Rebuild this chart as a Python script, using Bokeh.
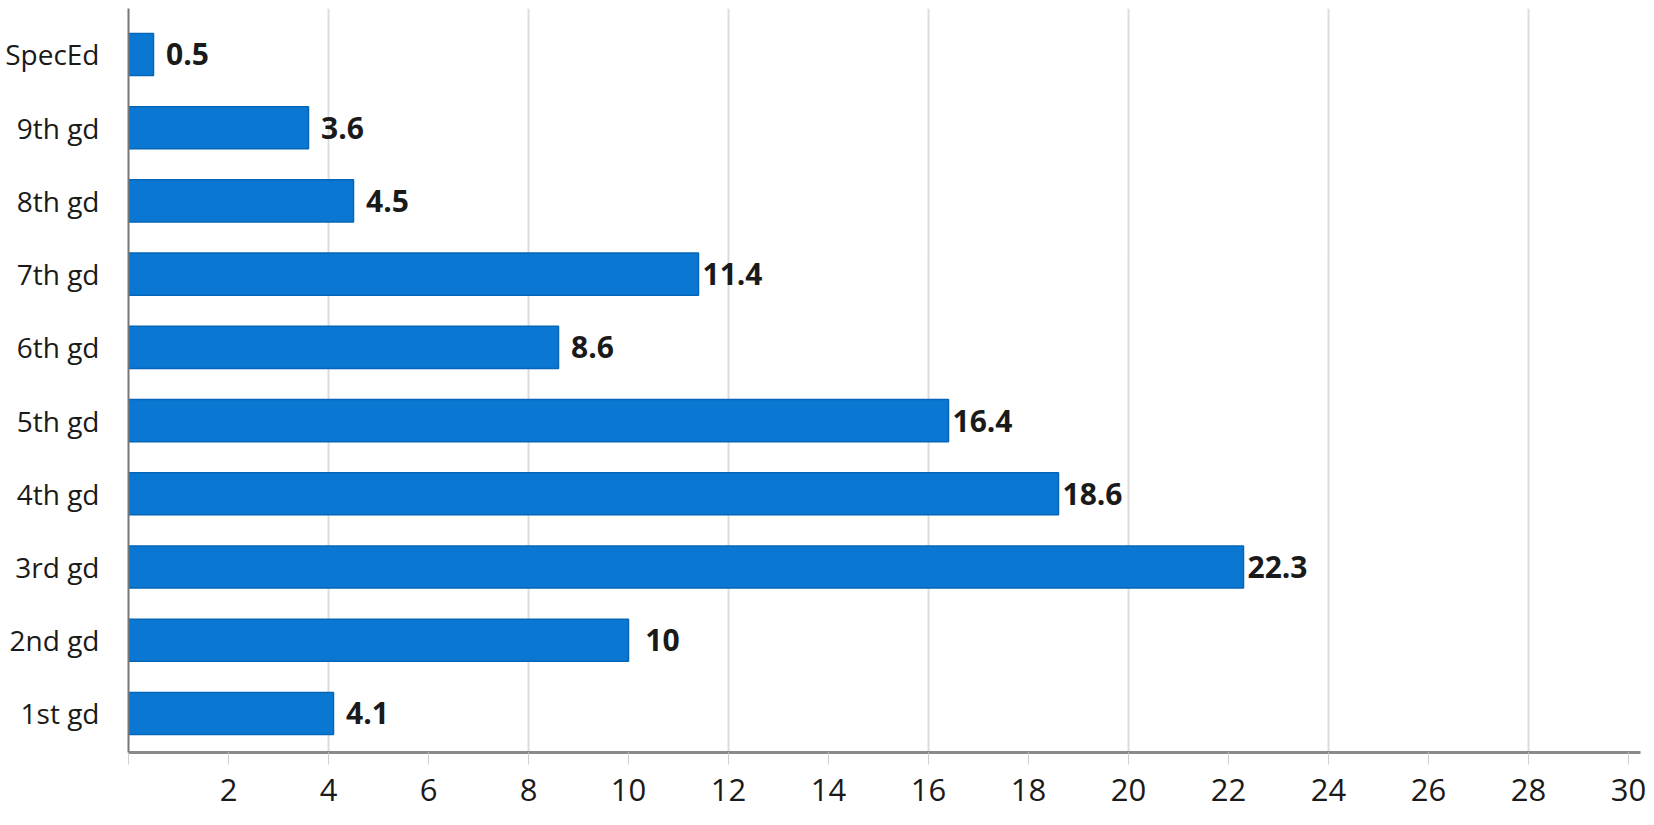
from bokeh.plotting import figure
from bokeh.models import ColumnDataSource, FixedTicker, Range1d, LabelSet
from bokeh.core.properties import value
from bokeh.embed import file_html
from bokeh.resources import INLINE

categories = ["1st gd", "2nd gd", "3rd gd", "4th gd", "5th gd",
              "6th gd", "7th gd", "8th gd", "9th gd", "SpecEd"]
values = [4.1, 10, 22.3, 18.6, 16.4, 8.6, 11.4, 4.5, 3.6, 0.5]
value_labels = ["4.1", "10", "22.3", "18.6", "16.4", "8.6", "11.4", "4.5", "3.6", "0.5"]
x_ticks = list(range(0, 31, 2))
x_tick_labels = {0: ""}
grid_ticks = list(range(4, 29, 4))

pos = list(range(len(categories)))
src = ColumnDataSource(dict(y=pos, v=values, lab=value_labels, cat=categories))

p = figure(width=1646, height=817, output_backend="svg", toolbar_location=None,
           x_range=Range1d(0, 30.24), y_range=Range1d(-0.533, 9.628),
           min_border_left=128, min_border_right=6, min_border_top=8,
           min_border_bottom=65)
p.outline_line_color = None
p.background_fill_color = "white"
p.border_fill_color = "white"

p.hbar(y="y", left=0, right="v", height=0.575, source=src,
       fill_color="#0a78d2", line_color="#0566b8", line_width=1.5)

labels = LabelSet(x="v", y="y", text="lab", source=src, x_offset=34,
                  text_align="center", text_baseline="middle",
                  text_font=value("Open Sans"), text_font_style="bold",
                  text_font_size="30px", text_color="#1a1a1a")
p.add_layout(labels)

# x axis
p.xaxis.ticker = FixedTicker(ticks=x_ticks)
p.xaxis.major_label_overrides = x_tick_labels
p.xaxis.axis_line_color = "#8a8a8a"
p.xaxis.axis_line_width = 3
p.xaxis.major_tick_line_color = "#cfcfcf"
p.xaxis.major_tick_in = 0
p.xaxis.major_tick_out = 12
p.xaxis.minor_tick_line_color = None
p.xaxis.major_label_text_font = "Open Sans"
p.xaxis.major_label_text_font_size = "31px"
p.xaxis.major_label_text_color = "#1a1a1a"
p.xaxis.major_label_standoff = 14

# y axis
p.yaxis.ticker = FixedTicker(ticks=pos)
p.yaxis.major_label_overrides = {i: c for i, c in zip(pos, categories)}
p.yaxis.axis_line_color = "#777777"
p.yaxis.axis_line_width = 2
p.yaxis.major_tick_line_color = None
p.yaxis.minor_tick_line_color = None
p.yaxis.major_label_text_font = "Open Sans"
p.yaxis.major_label_text_font_size = "28px"
p.yaxis.major_label_text_color = "#1a1a1a"
p.yaxis.major_label_text_align = "center"
p.yaxis.major_label_standoff = 23

# grid
p.xgrid.ticker = FixedTicker(ticks=grid_ticks)
p.xgrid.grid_line_color = "#dcdcdc"
p.xgrid.grid_line_width = 2
p.ygrid.grid_line_color = None

open("out.html", "w").write(file_html(p, INLINE))
